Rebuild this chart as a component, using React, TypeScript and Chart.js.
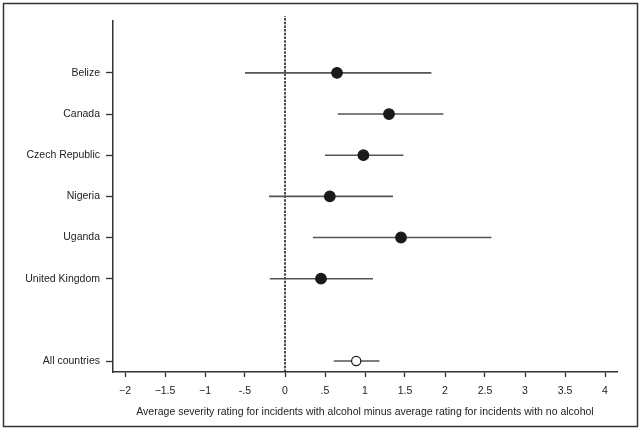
import React, { useEffect, useRef } from "react";
import { Chart, registerables } from "chart.js";

Chart.register(...registerables);

const categories = ["All countries", "United Kingdom", "Uganda", "Nigeria", "Czech Republic", "Canada", "Belize"];
const positions = [0, 2, 3, 4, 5, 6, 7];
const estimates = [0.89, 0.45, 1.45, 0.56, 0.98, 1.3, 0.65];
const lower = [0.61, -0.19, 0.35, -0.2, 0.5, 0.66, -0.5];
const upper = [1.18, 1.1, 2.58, 1.35, 1.48, 1.98, 1.83];
const xTickValues = [-2, -1.5, -1, -0.5, 0, 0.5, 1, 1.5, 2, 2.5, 3, 3.5, 4];
const xTickLabels = ["\u22122", "\u22121.5", "\u22121", "-.5", "0", ".5", "1", "1.5", "2", "2.5", "3", "3.5", "4"];
const xTitle = "Average severity rating for incidents with alcohol minus average rating for incidents with no alcohol";

const FONT = "'Liberation Sans', Arial, Helvetica, sans-serif";

const framePlugin = {
  id: "frame",
  afterDraw(chart: any) {
    const ctx = chart.ctx;
    ctx.save();
    ctx.strokeStyle = "#333";
    ctx.lineWidth = 1.5;
    ctx.strokeRect(3.5, 3.5, 634, 423);
    ctx.restore();
  },
};

export default function App() {
  const ref = useRef<HTMLCanvasElement | null>(null);

  useEffect(() => {
    if (!ref.current) return;
    const ciSets = positions.map((p, i) => ({
      type: "scatter" as const,
      data: [
        { x: lower[i], y: p },
        { x: upper[i], y: p },
      ],
      showLine: true,
      borderColor: "#555",
      borderWidth: 1.6,
      pointRadius: 0,
      order: 2,
    }));
    const zeroLine = {
      type: "scatter" as const,
      data: [
        { x: 0, y: -0.267 },
        { x: 0, y: 8.38 },
      ],
      showLine: true,
      borderColor: "#111",
      borderWidth: 1.5,
      borderDash: [2.5, 1.2],
      pointRadius: 0,
      clip: false as any,
      order: 3,
    };
    const points = {
      type: "scatter" as const,
      data: positions.map((p, i) => ({ x: estimates[i], y: p })),
      pointRadius: positions.map((p) => (p === 0 ? 4.6 : 5.3)),
      pointBackgroundColor: positions.map((p) => (p === 0 ? "#fff" : "#1a1a1a")),
      pointBorderColor: "#1a1a1a",
      pointBorderWidth: 1.2,
      order: 0,
    };
    const chart = new Chart(ref.current, {
      type: "scatter",
      data: { datasets: [points, ...ciSets, zeroLine] as any },
      plugins: [framePlugin],
      options: {
        animation: false,
        responsive: false,
        maintainAspectRatio: false,
        layout: { padding: { left: 0, right: 26, top: 21, bottom: 0 } },
        plugins: { legend: { display: false }, tooltip: { enabled: false } },
        scales: {
          x: {
            type: "linear",
            min: -2.15,
            max: 4.15,
            afterBuildTicks: (scale: any) => {
              scale.ticks = xTickValues.map((v) => ({ value: v }));
            },
            afterFit: (scale: any) => {
              scale.height = 60;
            },
            ticks: {
              callback: (v: any) => {
                const idx = xTickValues.indexOf(Number(v));
                return idx >= 0 ? xTickLabels[idx] : "";
              },
              font: { family: FONT, size: 10.5 },
              color: "#222",
              padding: 8,
              maxRotation: 0,
              autoSkip: false,
            },
            grid: {
              display: true,
              drawOnChartArea: false,
              drawTicks: true,
              tickLength: 5,
              tickColor: "#333",
              tickWidth: 1.3,
            },
            border: { display: true, color: "#333", width: 1.5 },
            title: {
              display: true,
              text: xTitle,
              font: { family: FONT, size: 10.5 },
              color: "#222",
              padding: { top: 4, bottom: 14 },
            },
          },
          y: {
            type: "linear",
            min: -0.267,
            max: 8.26,
            afterBuildTicks: (scale: any) => {
              scale.ticks = positions.map((v) => ({ value: v }));
            },
            afterFit: (scale: any) => {
              scale.width = 113;
            },
            ticks: {
              callback: (v: any) => {
                const idx = positions.indexOf(Number(v));
                return idx >= 0 ? categories[idx] : "";
              },
              font: { family: FONT, size: 10.5 },
              color: "#222",
              padding: 6,
              autoSkip: false,
            },
            grid: {
              display: true,
              drawOnChartArea: false,
              drawTicks: true,
              tickLength: 7,
              tickColor: "#333",
              tickWidth: 1.3,
            },
            border: { display: true, color: "#333", width: 1.5 },
          },
        },
      },
    });
    return () => chart.destroy();
  }, []);

  return (
    <div style={{ position: "absolute", left: 0, top: 0, width: 643, height: 432, background: "#fff" }}>
      <canvas ref={ref} width={643} height={432} style={{ display: "block", width: 643, height: 432 }} />
    </div>
  );
}
